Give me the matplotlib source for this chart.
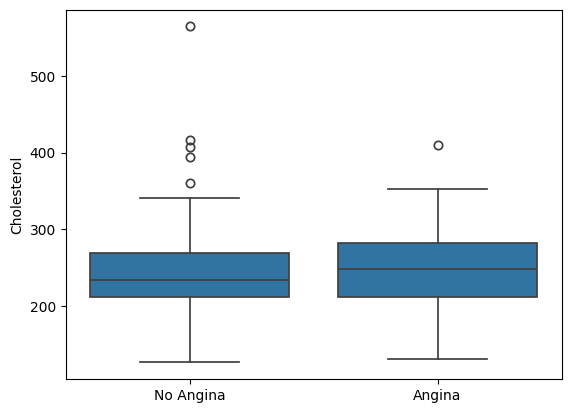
import matplotlib
matplotlib.use("Agg")
import matplotlib.pyplot as plt

# box statistics
groups = ["No Angina", "Angina"]
q1 = [212, 212]
median = [234.5, 249]
q3 = [270, 283]
whisker_low = [127, 131]
whisker_high = [341, 353]
fliers = [
    [360, 394, 407, 417, 564],
    [409.5],
]

box_color = "#3274a1"
line_color = "#3f3f3f"


def main():
    fig, ax = plt.subplots(figsize=(6.4, 4.8), dpi=100)

    stats = []
    for i, name in enumerate(groups):
        stats.append({
            "label": name,
            "q1": q1[i],
            "med": median[i],
            "q3": q3[i],
            "whislo": whisker_low[i],
            "whishi": whisker_high[i],
            "fliers": fliers[i],
        })

    ax.bxp(
        stats,
        positions=range(len(groups)),
        widths=0.8,
        patch_artist=True,
        boxprops=dict(facecolor=box_color, edgecolor=line_color, linewidth=1.25),
        medianprops=dict(color=line_color, linewidth=1.25),
        whiskerprops=dict(color=line_color, linewidth=1.25),
        capprops=dict(color=line_color, linewidth=1.25),
        capwidths=0.4,
        flierprops=dict(marker="o", markerfacecolor="none",
                        markeredgecolor=line_color, markersize=6,
                        markeredgewidth=1.25),
    )

    ax.set_xlim(-0.5, len(groups) - 0.5)
    ax.set_xticks(range(len(groups)))
    ax.set_xticklabels(groups)
    ax.set_ylabel("Cholesterol")
    ax.set_yticks([200, 300, 400, 500])

    fig.savefig("out.png", dpi=100, bbox_inches="tight")


if __name__ == "__main__":
    main()
